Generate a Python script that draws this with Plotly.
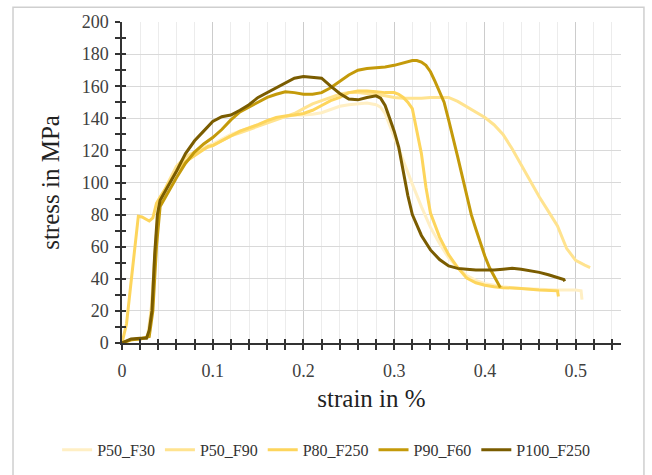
import plotly.graph_objects as go

series_names = ["P50_F30", "P50_F90", "P80_F250", "P90_F60", "P100_F250"]
series_colors = ["#FFEFC4", "#FFE38F", "#FDD55C", "#C49A0A", "#7A5C00"]

p50_f30_x = [0, 0.01, 0.02, 0.028, 0.032, 0.036, 0.04, 0.045, 0.05, 0.06, 0.07, 0.08, 0.09, 0.1, 0.11, 0.12,
             0.13, 0.14, 0.15, 0.16, 0.17, 0.18, 0.19, 0.2, 0.21, 0.22, 0.23, 0.24, 0.25, 0.26, 0.27, 0.28,
             0.285, 0.29, 0.3, 0.31, 0.32, 0.33, 0.34, 0.35, 0.36, 0.37, 0.38, 0.39, 0.4, 0.42, 0.44, 0.46,
             0.48, 0.5, 0.506, 0.507]
p50_f30_y = [0, 2, 2.5, 4, 20, 55, 84, 91, 98, 108, 115, 119, 122, 124, 127, 130,
             132, 134, 136, 138, 140, 141, 142, 142, 142.5, 143.5, 145.5, 147.5, 148.5, 149, 149.5, 148.5,
             147, 143, 128, 114, 99, 85, 72, 62, 53, 47, 42, 39, 37, 35, 34, 33.5,
             33, 33, 32.5, 27]

p50_f90_x = [0, 0.01, 0.02, 0.029, 0.033, 0.037, 0.041, 0.045, 0.05, 0.06, 0.07, 0.08, 0.09, 0.1, 0.11, 0.12,
             0.13, 0.14, 0.15, 0.16, 0.17, 0.18, 0.19, 0.2, 0.21, 0.22, 0.23, 0.24, 0.25, 0.26, 0.27, 0.28,
             0.29, 0.3, 0.31, 0.32, 0.33, 0.34, 0.35, 0.36, 0.37, 0.38, 0.39, 0.4, 0.41, 0.42, 0.43, 0.44,
             0.45, 0.46, 0.47, 0.48, 0.49, 0.5, 0.51, 0.516]
p50_f90_y = [0, 2, 2.5, 4, 25, 62, 87, 92, 99, 110, 116, 119, 121, 123, 126, 129,
             131, 133, 135, 137, 139, 141, 143, 146, 149, 151, 153, 155, 156, 156, 155.5, 155,
             154, 153, 152.5, 152.5, 152.5, 153, 153, 153, 150.5, 147, 144, 140.5, 136, 130, 121, 111,
             101, 91, 82, 73, 59, 51.5, 48.5, 47]

p80_f250_x = [0, 0.005, 0.01, 0.013, 0.016, 0.018, 0.022, 0.026, 0.03, 0.034, 0.038, 0.042, 0.05, 0.06, 0.07,
              0.08, 0.09, 0.095, 0.1, 0.11, 0.12, 0.13, 0.14, 0.15, 0.16, 0.17, 0.18, 0.19, 0.2, 0.21, 0.22,
              0.23, 0.24, 0.25, 0.26, 0.27, 0.28, 0.29, 0.3, 0.305, 0.31, 0.315, 0.32, 0.325, 0.33, 0.335,
              0.34, 0.35, 0.36, 0.37, 0.38, 0.39, 0.4, 0.41, 0.42, 0.44, 0.46, 0.48, 0.481]
p80_f250_y = [0, 12, 38, 55, 72, 79, 78.5, 77, 76, 78, 87, 91, 98, 107, 113,
              117, 121, 122.5, 123, 126, 129, 132, 134, 136, 138.5, 140.5, 141.5, 142, 143, 145, 148,
              151, 153, 156, 157, 157, 156.5, 156, 156, 155, 153, 150, 146, 133, 118, 97,
              81, 66, 55, 47, 40.5, 37.5, 36, 35, 34.5, 34, 33, 32.5, 29]

p90_f60_x = [0, 0.01, 0.02, 0.03, 0.034, 0.038, 0.042, 0.046, 0.05, 0.06, 0.07, 0.08, 0.09, 0.1, 0.11, 0.12,
             0.13, 0.14, 0.15, 0.16, 0.17, 0.18, 0.19, 0.2, 0.21, 0.22, 0.23, 0.24, 0.25, 0.26, 0.27, 0.28,
             0.29, 0.3, 0.31, 0.32, 0.325, 0.33, 0.335, 0.34, 0.345, 0.35, 0.355, 0.36, 0.365, 0.37, 0.375,
             0.38, 0.385, 0.39, 0.395, 0.4, 0.405, 0.41, 0.417]
p90_f60_y = [0, 2, 2.5, 4, 20, 60, 85, 89, 93, 103, 112, 119, 124, 128, 133, 139,
             144, 147, 150.5, 153, 155, 156.5, 156, 155, 155, 156, 159, 163, 167, 170, 171, 171.5,
             172, 173, 174.5, 176, 176, 175, 173, 169, 163, 157, 150, 139, 128, 116, 104,
             91, 80, 71, 62, 54, 47, 42, 34.5]

p100_f250_x = [0, 0.01, 0.02, 0.027, 0.03, 0.033, 0.036, 0.039, 0.042, 0.05, 0.06, 0.07, 0.08, 0.09, 0.1,
               0.11, 0.12, 0.13, 0.14, 0.15, 0.16, 0.17, 0.18, 0.19, 0.2, 0.21, 0.22, 0.23, 0.24, 0.25,
               0.26, 0.27, 0.28, 0.285, 0.29, 0.295, 0.3, 0.305, 0.31, 0.315, 0.32, 0.33, 0.34, 0.35, 0.36,
               0.37, 0.38, 0.39, 0.4, 0.41, 0.42, 0.43, 0.44, 0.45, 0.46, 0.47, 0.48, 0.487, 0.488]
p100_f250_y = [0, 2.5, 3, 3, 8, 20, 55, 80, 89, 97, 107, 118, 126, 132, 138,
               141, 142, 145, 148.5, 153, 156, 159, 162.5, 165, 166, 165.5, 165, 160, 155.5, 152,
               151.5, 153, 154, 152.5, 148, 140, 132, 122, 106, 92, 80, 67, 58, 52, 48,
               46.5, 46, 45.5, 45.5, 45.5, 46, 46.5, 46, 45, 44, 42.5, 41, 39.5, 38.5]

x_tick_vals = [0, 0.1, 0.2, 0.3, 0.4, 0.5]
x_tick_text = ["0", "0.1", "0.2", "0.3", "0.4", "0.5"]
y_tick_vals = [0, 20, 40, 60, 80, 100, 120, 140, 160, 180, 200]

xs = [p50_f30_x, p50_f90_x, p80_f250_x, p90_f60_x, p100_f250_x]
ys = [p50_f30_y, p50_f90_y, p80_f250_y, p90_f60_y, p100_f250_y]

SERIF = "Liberation Serif"
fig = go.Figure()
for name, color, x, y in zip(series_names, series_colors, xs, ys):
    fig.add_trace(go.Scatter(x=x, y=y, name=name, mode="lines",
                             line=dict(color=color, width=3)))

# overlay axes carrying the inside half of the crossing tick marks
fig.add_trace(go.Scatter(x=[], y=[], xaxis="x2", yaxis="y2", showlegend=False, hoverinfo="skip"))

tick_col = "#333333"
fig.update_layout(
    width=652, height=475,
    margin=dict(l=122, r=31, t=22, b=132, autoexpand=False),
    paper_bgcolor="white", plot_bgcolor="white",
    font=dict(family=SERIF, color="#333333"),
    showlegend=True,
    legend=dict(orientation="h", x=-0.13, xanchor="left", y=-0.333, yanchor="middle",
                font=dict(family=SERIF, size=16, color="#333333"),
                tracegroupgap=0, bgcolor="rgba(0,0,0,0)"),
    xaxis=dict(range=[0, 0.55], tickvals=x_tick_vals, ticktext=x_tick_text,
               showgrid=True, gridcolor="#cccccc", gridwidth=1,
               zeroline=False, showline=True, linecolor=tick_col, linewidth=1.5,
               ticks="outside", ticklen=5, tickwidth=1.5, tickcolor=tick_col,
               ticklabelstandoff=6,
               minor=dict(dtick=0.02, tick0=0, showgrid=True, gridcolor="#ececec", gridwidth=1,
                          ticks="outside", ticklen=5, tickwidth=1.5, tickcolor=tick_col),
               tickfont=dict(family=SERIF, size=18, color="#404040"),
               title=dict(text="strain in %", font=dict(family=SERIF, size=25, color="#222222"),
                          standoff=9)),
    yaxis=dict(range=[0, 200], tickvals=y_tick_vals,
               showgrid=True, gridcolor="#d9d9d9", gridwidth=1,
               zeroline=False, showline=True, linecolor=tick_col, linewidth=1.5,
               ticks="outside", ticklen=5, tickwidth=1.5, tickcolor=tick_col,
               ticklabelstandoff=3,
               minor=dict(dtick=10, tick0=0, showgrid=False,
                          ticks="outside", ticklen=5, tickwidth=1.5, tickcolor=tick_col),
               tickfont=dict(family=SERIF, size=18, color="#404040"),
               title=dict(text="stress in MPa", font=dict(family=SERIF, size=25, color="#222222"),
                          standoff=15)),
    xaxis2=dict(range=[0, 0.55], overlaying="x", anchor="y2", side="bottom",
                tickvals=x_tick_vals, showticklabels=False, showgrid=False, zeroline=False,
                showline=False, ticks="inside", ticklen=4, tickwidth=1.5, tickcolor=tick_col,
                minor=dict(dtick=0.02, tick0=0, showgrid=False, ticks="inside", ticklen=4,
                           tickwidth=1.5, tickcolor=tick_col)),
    yaxis2=dict(range=[0, 200], overlaying="y", anchor="x2", side="left",
                tickvals=y_tick_vals, showticklabels=False, showgrid=False, zeroline=False,
                showline=False, ticks="inside", ticklen=4, tickwidth=1.5, tickcolor=tick_col,
                minor=dict(dtick=10, tick0=0, showgrid=False, ticks="inside", ticklen=4,
                           tickwidth=1.5, tickcolor=tick_col)),
    shapes=[dict(type="rect", xref="paper", yref="paper",
                 x0=-0.2184, x1=1.046, y0=-0.45, y1=1.046,
                 line=dict(color="#cfcfcf", width=1.5), fillcolor="rgba(0,0,0,0)", layer="above")],
)

fig.write_html("out.html", config={"displayModeBar": False},
               post_script="document.body.style.margin='0';document.body.style.overflow='hidden';")
